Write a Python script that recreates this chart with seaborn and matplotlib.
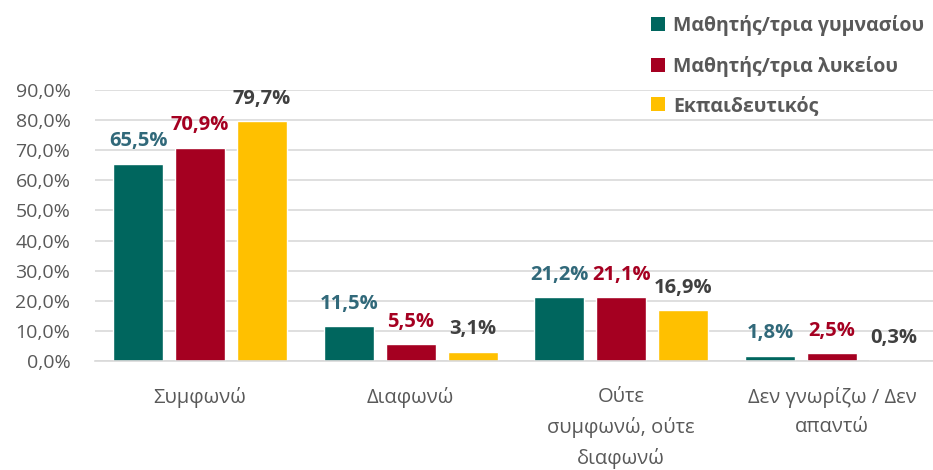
import matplotlib
matplotlib.use("Agg")
import matplotlib.pyplot as plt
import seaborn as sns
import pandas as pd
from matplotlib.ticker import FuncFormatter
from matplotlib.patches import Patch

categories = ["Συμφωνώ", "Διαφωνώ", "Ούτε\nσυμφωνώ, ούτε\nδιαφωνώ", "Δεν γνωρίζω / Δεν\nαπαντώ"]
series = ["Μαθητής/τρια γυμνασίου", "Μαθητής/τρια λυκείου", "Εκπαιδευτικός"]
gymnasio = [65.5, 11.5, 21.2, 1.8]
lykeio = [70.9, 5.5, 21.1, 2.5]
ekpaideutikos = [79.7, 3.1, 16.9, 0.3]

bar_colors = ["#00665E", "#A50021", "#FFC000"]
label_colors = ["#31697A", "#A50021", "#404040"]

rows = []
for s, vals in zip(series, [gymnasio, lykeio, ekpaideutikos]):
    for c, v in zip(categories, vals):
        rows.append({"cat": c, "series": s, "value": v})
df = pd.DataFrame(rows)

sns.set_theme(style="white")
plt.rcParams["font.family"] = ["Open Sans", "DejaVu Sans"]

fig = plt.figure(figsize=(9.33, 4.70), dpi=100)
ax = fig.add_axes([0.1015, 0.2319, 0.903, 0.5766])

sns.barplot(data=df, x="cat", y="value", hue="series", palette=bar_colors,
            width=0.883, gap=0.194, ax=ax, legend=False, saturation=1)

for cont, col in zip(ax.containers, label_colors):
    ax.bar_label(cont, labels=[f"{v:.1f}%".replace(".", ",") for v in cont.datavalues],
                 padding=9, color=col, fontsize=14.5, fontweight="bold")

ax.set_ylim(0, 90)
ax.set_yticks(range(0, 91, 10))
ax.yaxis.set_major_formatter(FuncFormatter(lambda v, p: f"{v:.1f}%".replace(".", ",")))
ax.grid(axis="y", color="#D9D9D9", linewidth=1.2)
ax.set_axisbelow(True)
for sp in ["top", "right", "left"]:
    ax.spines[sp].set_visible(False)
ax.spines["bottom"].set_color("#D9D9D9")
ax.spines["bottom"].set_linewidth(1.2)
ax.set_xlabel("")
ax.set_ylabel("")
ax.tick_params(axis="y", labelsize=14, colors="#595959", length=0, pad=17.5)
ax.tick_params(axis="x", labelsize=14.5, colors="#595959", length=0, pad=19)
for t in ax.get_xticklabels():
    t.set_linespacing(1.6)
ax.set_xlim(-0.5, 3.5)

handles = [Patch(facecolor=c, edgecolor="none") for c in bar_colors]
leg = fig.legend(handles, series, loc="upper left", bbox_to_anchor=(0.6795, 1.005),
                 frameon=False, fontsize=14, handlelength=0.72, handleheight=0.72,
                 handletextpad=0.4, labelspacing=1.0)
for t in leg.get_texts():
    t.set_color("#595959")
    t.set_fontweight("bold")

fig.savefig("out.png", dpi=100)
